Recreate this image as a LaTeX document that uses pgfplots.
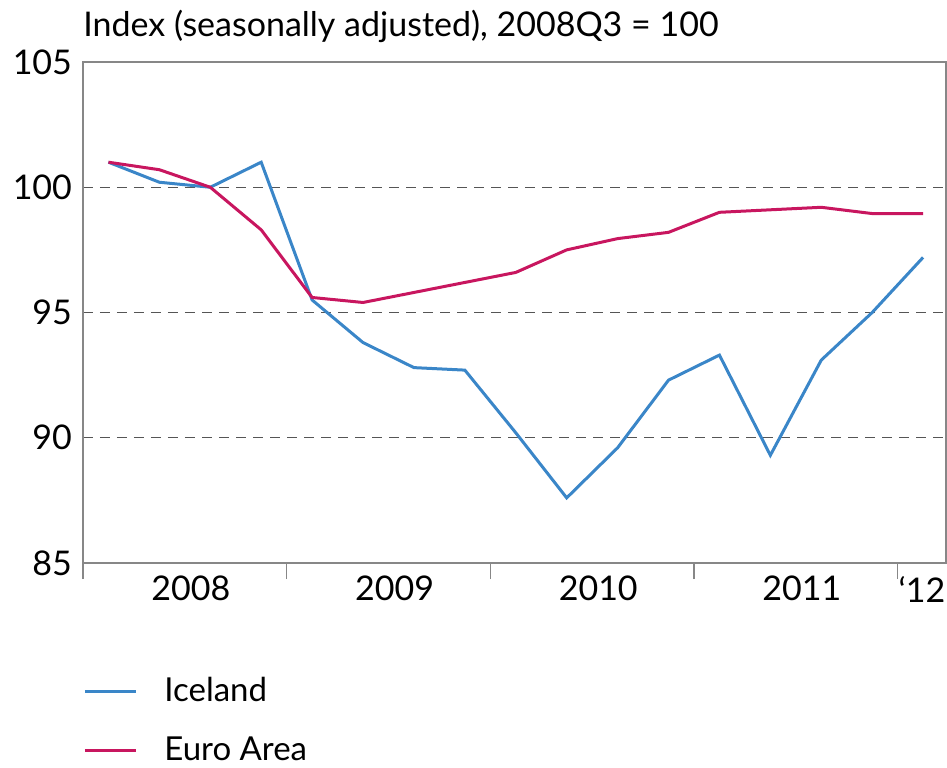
\documentclass[border=0pt]{standalone}
\usepackage{pgfplots}
\pgfplotsset{compat=1.18}
\usepackage{fontspec}
\setmainfont{Lato}

\definecolor{iceblue}{RGB}{58,134,200}
\definecolor{euromag}{RGB}{200,22,95}
\definecolor{framegray}{RGB}{135,135,135}
\definecolor{gridgray}{RGB}{85,85,85}

% quarters: 0 = 2008Q1 ... 16 = 2012Q1
\pgfplotstableread{
q   iceland  euro
0   101.0    101.0
1   100.2    100.7
2   100.0    100.0
3   101.0    98.3
4   95.5     95.6
5   93.8     95.4
6   92.8     95.8
7   92.7     96.2
8   90.2     96.6
9   87.6     97.5
10  89.6     97.95
11  92.3     98.2
12  93.3     99.0
13  89.3     99.1
14  93.1     99.2
15  95.0     98.95
16  97.2     98.95
}\indexdata

\begin{document}
\begin{tikzpicture}
\begin{axis}[
  name=main, at={(0,0)}, anchor=south west,
  scale only axis, width=431.5pt, height=250.5pt,
  xmin=-0.5, xmax=16.45,
  ymin=85, ymax=105,
  ytick={85,90,95,100,105},
  xtick={1.62,5.62,9.62,13.62,15.98},
  xticklabels={2008,2009,2010,2011,‘12},
  minor xtick={-0.5,3.5,7.5,11.5,15.5},
  xtick pos=bottom, ytick pos=left,
  major tick length=0pt,
  minor tick length=8pt,
  tick align=outside,
  tick style={framegray, line width=0.6pt},
  axis line style={framegray, line width=0.6pt},
  ymajorgrids,
  grid style={gridgray, line width=0.7pt, dash pattern=on 5pt off 3.5pt},
  /pgf/number format/assume math mode=true,
  tick label style={font=\fontsize{17}{19}\selectfont},
  yticklabel style={xshift=-2pt},
  xticklabel style={yshift=-3pt},
  title={Index (seasonally adjusted), 2008Q3 = 100},
  title style={at={(0,1)}, anchor=base west, inner sep=0pt, yshift=7pt,
    font=\fontsize{17}{19}\selectfont},
  legend style={at={(0,-0.2)}, anchor=north west, draw=none, fill=none,
    xshift=-3pt, yshift=-3pt,
    font=\fontsize{16.5}{18}\selectfont, row sep=12pt,
    /tikz/every even column/.append style={column sep=0pt}},
  legend cell align=left,
  legend image code/.code={\draw[#1] (0pt,0pt) -- (25.5pt,0pt);},
]
\addplot[iceblue, line width=1.5pt] table[x=q, y=iceland] {\indexdata};
\addplot[euromag, line width=1.5pt] table[x=q, y=euro] {\indexdata};
\legend{\hspace{11.5pt}Iceland, \hspace{11.5pt}Euro Area}
\end{axis}
\pgfresetboundingbox
\path (-41.5pt,-102pt) rectangle (432pt,281.5pt);
\end{tikzpicture}
\end{document}
